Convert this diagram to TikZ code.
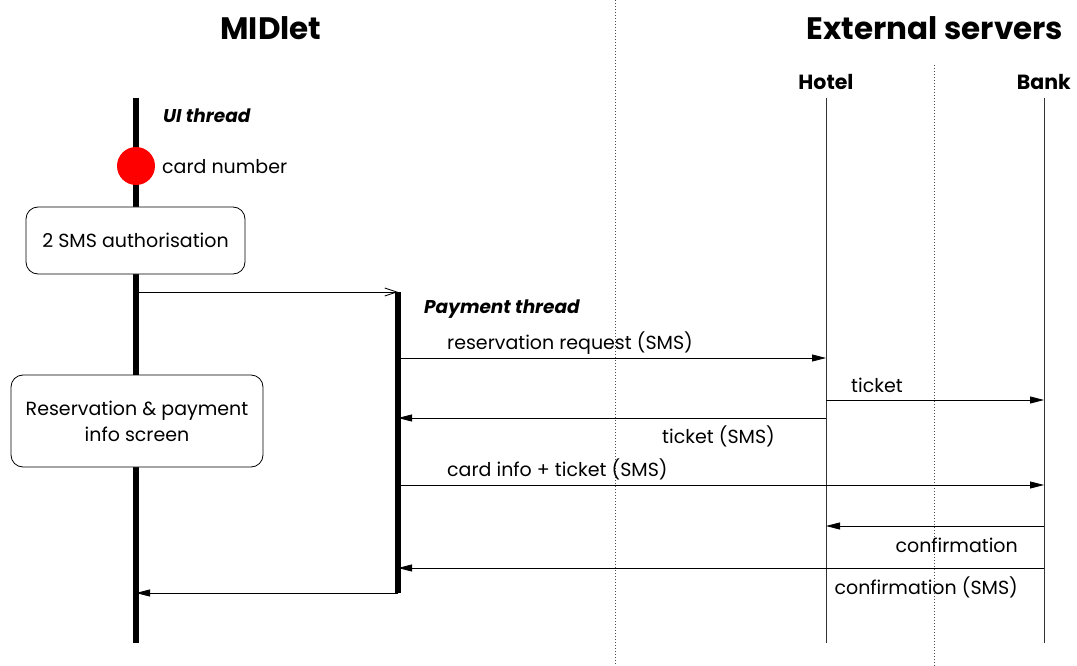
\documentclass[tikz,border=0pt]{standalone}
\usepackage{fontspec}
\setmainfont{Poppins}
\usetikzlibrary{arrows.meta}
\begin{document}
\begin{tikzpicture}[x=1pt,y=-1pt,
  lbl/.style={inner sep=0pt,font=\fontsize{19}{21}\selectfont},
  title/.style={inner sep=0pt,font=\fontsize{31}{34}\bfseries\selectfont},
  srv/.style={inner sep=0pt,font=\fontsize{20.5}{22}\bfseries\selectfont},
  thr/.style={inner sep=0pt,font=\fontsize{18.5}{20}\bfseries\itshape\selectfont},
  thread/.style={line width=5.5pt},
  life/.style={line width=0.9pt,black!80},
  sep/.style={line width=1pt,dotted,black!70},
  box/.style={draw,line width=0.8pt,rounded corners=12pt,fill=white,align=center,
              font=\fontsize{19}{26}\selectfont},
  msg/.style={line width=0.8pt,-{Triangle[length=14pt,width=7pt]}},
  call/.style={line width=0.8pt,-{Straight Barb[length=12pt,width=8pt,line width=0.8pt]}}]
\useasboundingbox (0,0) rectangle (1077,666);

% column separators
\draw[sep] (615,0) -- (615,666);
\draw[sep] (934,65) -- (934,666);

% headings
\node[title] (tmid) at (271,28) {MIDlet};
\node[title] (text) at (935,28) {External servers};
\node[srv] (hotel) at (826,82) {Hotel};
\node[srv,anchor=east] (bank) at (1071,82) {Bank};

% lifelines of the servers
\coordinate (h0) at (826,98);  \coordinate (h1) at (826,643);
\coordinate (b0) at (1044,98); \coordinate (b1) at (1044,643);
\draw[life] (h0) -- (h1);
\draw[life] (b0) -- (b1);

% UI thread
\coordinate (u0) at (136,98); \coordinate (u1) at (136,643);
\draw[thread] (u0) -- (u1);
\node[thr,anchor=west] (uil) at (163,116) {UI thread};
\node[circle,fill=red,minimum size=38pt,inner sep=0pt] (card) at (136,166) {};
\node[lbl,anchor=west] (cardl) at (162,167) {card number};
\node[box,minimum width=219pt,minimum height=67pt] (auth) at (135.5,240.5) {2 SMS authorisation};
\node[box,minimum width=252pt,minimum height=92pt] (resv) at (137,421) {Reservation \& payment\\info screen};

% payment thread
\coordinate (p0) at (398,292); \coordinate (p1) at (398,593);
\draw[thread] (p0) -- (p1);
\node[thr,anchor=west] (pl) at (424,309) {Payment thread};

% start of the payment thread
\coordinate (s0) at (136,292);
\draw[call] (s0) -- (p0);

% messages
\coordinate (m1a) at (398,358);  \coordinate (m1b) at (826,358);
\draw[msg] (m1a) -- (m1b);
\node[lbl,anchor=west] (m1l) at (447,343) {reservation request (SMS)};

\coordinate (m2a) at (826,400);  \coordinate (m2b) at (1044,400);
\draw[msg] (m2a) -- (m2b);
\node[lbl,anchor=west] (m2l) at (851,385) {ticket};

\coordinate (m3a) at (826,418);  \coordinate (m3b) at (398,418);
\draw[msg] (m3a) -- (m3b);
\node[lbl,anchor=east] (m3l) at (775,436) {ticket (SMS)};

\coordinate (m4a) at (398,485);  \coordinate (m4b) at (1044,485);
\draw[msg] (m4a) -- (m4b);
\node[lbl,anchor=west] (m4l) at (447,469) {card info + ticket (SMS)};

\coordinate (m5a) at (1044,526); \coordinate (m5b) at (826,526);
\draw[msg] (m5a) -- (m5b);
\node[lbl,anchor=east] (m5l) at (1018,545) {confirmation};

\coordinate (m6a) at (1044,568); \coordinate (m6b) at (398,568);
\draw[msg] (m6a) -- (m6b);
\node[lbl,anchor=east] (m6l) at (1018,587) {confirmation (SMS)};

% return to the UI thread
\coordinate (r0) at (136,593);
\draw[msg] (p1) -- (r0);
\end{tikzpicture}
\end{document}
